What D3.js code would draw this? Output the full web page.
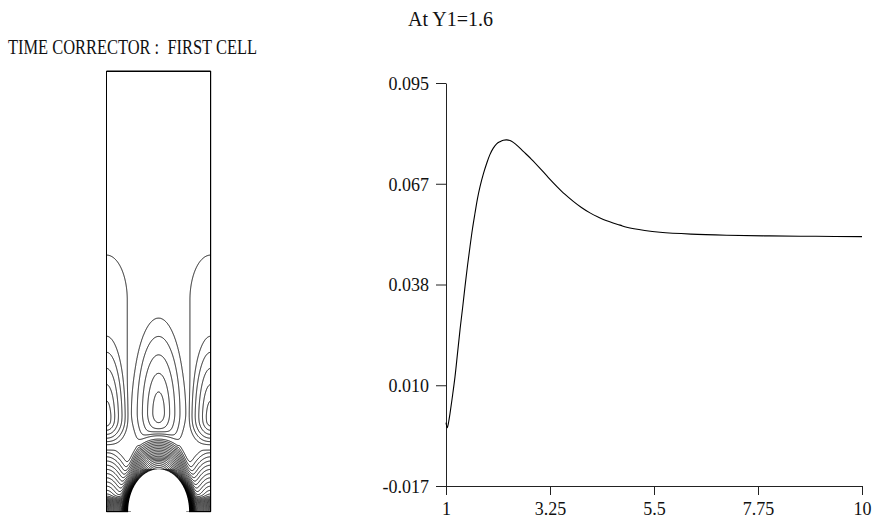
<!DOCTYPE html>
<html><head><meta charset="utf-8">
<script src="https://cdn.jsdelivr.net/npm/d3@7"></script>
<style>
html,body{margin:0;padding:0;background:#fff;}
svg{display:block;}
text{font-family:"Liberation Serif","Times New Roman",serif;fill:#111;}
</style></head>
<body>
<svg id="chart" width="872" height="519"></svg>
<script>
// ---------------- Right panel data ----------------
const curveX = [1.000,1.028,1.060,1.087,1.140,1.195,1.250,1.303,1.360,1.411,1.465,1.519,1.573,1.627,1.680,1.736,1.810,1.881,1.950,2.023,2.095,2.168,2.240,2.313,2.385,2.456,2.560,2.672,2.850,3.034,3.210,3.395,3.570,3.754,3.930,4.115,4.300,4.477,4.765,4.910,5.300,5.630,6.300,7.070,8.000,9.000,10.000];
const curveY = [0.0006,-0.0008,0.0010,0.0032,0.0080,0.0134,0.0200,0.0264,0.0326,0.0384,0.0442,0.0495,0.0545,0.0588,0.0628,0.0662,0.0698,0.0727,0.0751,0.0769,0.0781,0.0787,0.0791,0.0792,0.0790,0.0785,0.0774,0.0760,0.0738,0.0713,0.0688,0.0663,0.0641,0.0621,0.0604,0.0589,0.0577,0.0567,0.0555,0.0549,0.0540,0.0535,0.0530,0.0527,0.0525,0.0524,0.0523];
const xTickValues = [1, 3.25, 5.5, 7.75, 10];
const xTickLabels = ["1", "3.25", "5.5", "7.75", "10"];
const yDomain = [-0.017, 0.095];
const yTickLabels = ["-0.017", "0.010", "0.038", "0.067", "0.095"];
const rightTitle = "At Y1=1.6";
const leftTitle = "TIME CORRECTOR :  FIRST CELL";

// ---------------- Left panel: cell model (cell-width units) ----------------
const cellSize = [1, 4.229];                // width, height of the periodic cell
const obstacleAxes = [0.2927, 0.4069];      // half-width, height of the inclusion
const bumpU      = [0.0, 0.5, 1.0];         // vortex centres (u)
const bumpV      = [0.871, 0.948, 0.871];   // vortex centres (v)
const bumpPeak   = [5.91, 6.17, 5.91];
const bumpSlope  = [28.4, 20.3, 28.4];
const bumpUp     = [4.36, 3.58, 4.36];
const bumpDown   = [1.46, 1.70, 1.46];
const wallTail   = [1.4, 0.2284, 2.032, 2.16, 0.938, 0.24]; // amp, width, cap base, cap aspect, base, down-scale
const domeField  = [20, 0.192, 0.4069, 0.365]; // amplitude, half-width, height, reach
const skinField  = [30, 0.038];             // amplitude, decay length
const cornerField = [16, 0.30, 0.65];       // amplitude, reach across, reach up
const bottomField = [14, 0.145];            // amplitude, reach
const contourLevels = d3.range(-80, 0).concat([1, 2, 3, 4, 5, 6]);

const svg = d3.select("#chart");

// ====== LEFT PANEL ======
const cx = d3.scaleLinear().domain([0, cellSize[0]]).range([106.5, 210.7]);
const cy = d3.scaleLinear().domain([0, cellSize[1]]).range([511.7, 71]);

function softplus(x, s){ const z = x/s; return z > 30 ? x : s*Math.log1p(Math.exp(z)); }
function ellDist(du, dv, a, b){
  const r = Math.sqrt((du/a)*(du/a) + (dv/b)*(dv/b));
  if (r < 1e-6) return -b;
  const g = Math.sqrt(Math.pow(du/(a*a), 2) + Math.pow(dv/(b*b), 2)) / r;
  return (r - 1) / g;
}
function field(u, v){
  let f = 0;
  for (let i = 0; i < bumpU.length; i++){
    const du = u - bumpU[i], dv = v - bumpV[i];
    const k = dv > 0 ? bumpUp[i] : bumpDown[i];
    const rho = Math.sqrt(du*du + (dv/k)*(dv/k));
    const eps = i === 1 ? 0.0133 : 0.0144;
    let L = bumpPeak[i] - bumpSlope[i]*Math.sqrt(rho*rho + eps*eps);
    if (i === 1 && L < 1) L = 1 - (1 - L)*2.5;
    f += softplus(L, 0.12);
  }
  // wall tails (capsule shaped)
  const tA = wallTail[0], tW = wallTail[1], tBase = wallTail[2], tK = wallTail[3], bBase = wallTail[4], bDown = wallTail[5];
  const q = (bBase - v)/bDown;
  const below = v < bBase ? Math.exp(-(q*q)) : 1;
  const up = Math.max(0, v - tBase)/tK;
  for (const uw of [0, 1]){
    const r = Math.sqrt((u - uw)*(u - uw) + up*up)/tW;
    f += tA * Math.exp(-Math.pow(r, 8)) * below;
  }
  // dome over the inclusion
  const ud = (u - 0.5)/domeField[1], vd = v/domeField[2];
  const rD = Math.sqrt(ud*ud + vd*vd);
  f -= domeField[0]*softplus(1 - (rD - 1)*domeField[2]/domeField[3], 0.06);
  // thin skin hugging the inclusion, strongest near the floor
  const d = ellDist(u - 0.5, v, obstacleAxes[0], obstacleAxes[1]);
  const w = Math.pow(Math.max(0, 1 - v/obstacleAxes[1]), 0.7);
  f -= skinField[0]*w*Math.exp(-Math.max(d, -0.2)/skinField[1]);
  // bottom corners
  for (const uw of [0, 1]){
    const rc = Math.sqrt(Math.pow((u - uw)/cornerField[1], 2) + Math.pow(v/cornerField[2], 2));
    f -= cornerField[0]*softplus(1 - rc, 0.06);
  }
  f -= bottomField[0]*softplus(1 - v/bottomField[1], 0.08);
  return f;
}

const nx = 210, ny = 883;
const du = cellSize[0]/(nx-1), dv = cellSize[1]/(ny-1);
const values = new Array(nx*ny);
for (let j = 0; j < ny; j++){
  const v = cellSize[1] - j*dv;
  for (let i = 0; i < nx; i++) values[j*nx + i] = field(i*du, v);
}
const contours = d3.contours().size([nx, ny]).thresholds(contourLevels)(values);
const proj = d3.geoTransform({point(px, py){
  this.stream.point(cx((px - 0.5)*du), cy(cellSize[1] - (py - 0.5)*dv));
}});
const gpath = d3.geoPath(proj);

const defs = svg.append("defs");
defs.append("clipPath").attr("id", "cellClip").append("rect")
  .attr("x", cx(0)).attr("y", cy(cellSize[1]))
  .attr("width", cx(cellSize[0]) - cx(0)).attr("height", cy(0) - cy(cellSize[1]));

const gAll = svg.append("g").attr("id", "cellAll");
const gCell = gAll.append("g").attr("clip-path", "url(#cellClip)");
gCell.selectAll("path.iso").data(contours).join("path")
  .attr("class", "iso").attr("d", gpath)
  .attr("fill", "none").attr("stroke", "#000").attr("stroke-width", 0.9);

const ellPts = d3.range(0, 181).map(t => {
  const a = t*Math.PI/180;
  return [0.5 + obstacleAxes[0]*Math.cos(a), obstacleAxes[1]*Math.sin(a)];
});
gCell.append("path")
  .attr("d", d3.line().x(p => cx(p[0])).y(p => cy(p[1]))(ellPts) + "Z")
  .attr("fill", "#fff").attr("stroke", "none");

const frame = d3.path();
frame.moveTo(cx(0.5 - obstacleAxes[0]), cy(0));
frame.lineTo(cx(0), cy(0)); frame.lineTo(cx(0), cy(cellSize[1]));
frame.lineTo(cx(1), cy(cellSize[1])); frame.lineTo(cx(1), cy(0));
frame.lineTo(cx(0.5 + obstacleAxes[0]), cy(0));
gAll.append("path").attr("d", frame.toString()).attr("fill", "none")
  .attr("stroke", "#000").attr("stroke-width", 1);

svg.append("text").attr("x", 8).attr("y", 54).style("white-space", "pre")
  .attr("font-size", 22).attr("textLength", 249).attr("lengthAdjust", "spacingAndGlyphs")
  .text(leftTitle);

// ====== RIGHT PANEL ======
const x = d3.scaleLinear().domain([xTickValues[0], xTickValues[xTickValues.length-1]]).range([446, 862]);
const y = d3.scaleLinear().domain(yDomain).range([486, 83]);
const yTickValues = d3.range(5).map(i => yDomain[0] + i*(yDomain[1]-yDomain[0])/4);

const yAxis = d3.axisLeft(y).tickValues(yTickValues)
  .tickFormat((d, i) => yTickLabels[i]).tickSize(10).tickPadding(7).tickSizeOuter(0);
const xAxis = d3.axisBottom(x).tickValues(xTickValues)
  .tickFormat((d, i) => xTickLabels[i]).tickSize(9).tickPadding(7).tickSizeOuter(0);

const gy = svg.append("g").attr("transform", "translate(446,0)").call(yAxis);
const gx = svg.append("g").attr("transform", "translate(0,486)").call(xAxis);
[gx, gy].forEach(g => {
  g.selectAll("path.domain").attr("stroke", "#222").attr("stroke-width", 1);
  g.selectAll(".tick line").attr("stroke", "#222").attr("stroke-width", 1);
  g.selectAll(".tick text").attr("font-family", "Liberation Serif").attr("font-size", 18).attr("fill", "#111");
});
gy.selectAll(".tick text").attr("dy", "0.36em");

const pts = curveX.map((v, i) => [v, curveY[i]]);
svg.append("path")
  .attr("d", d3.line().x(d => x(d[0])).y(d => y(d[1])).curve(d3.curveCatmullRom.alpha(0.5))(pts))
  .attr("fill", "none").attr("stroke", "#000").attr("stroke-width", 1.1);

svg.append("text").attr("x", 408).attr("y", 26).attr("font-size", 20).text(rightTitle);
</script>
</body></html>
